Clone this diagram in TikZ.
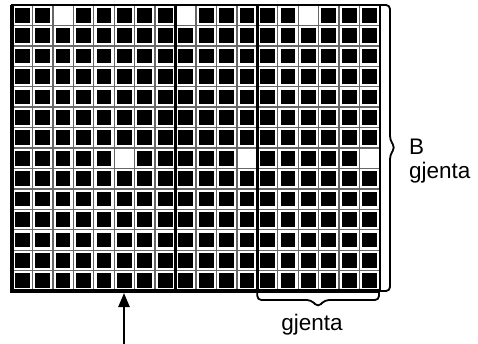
\documentclass[tikz,border=0pt]{standalone}
\usepackage{fontspec}
\setmainfont{Liberation Sans}
\usetikzlibrary{arrows.meta}
\begin{document}
\begin{tikzpicture}[x=1pt, y=-1pt]
        % Define styles
        \tikzstyle{gridline} = [draw=black!60, line width=1.3pt]
        \tikzstyle{divider} = [draw=black, line width=3pt]
        \tikzstyle{pixel} = [fill=black]
        \tikzstyle{bracket} = [draw=black, line width=1.8pt, rounded corners=4pt]
        \tikzstyle{label} = [font=\fontsize{22.5}{24}\selectfont, inner sep=0pt]
        \tikzstyle{arrow} = [-{Triangle[width=11pt,length=14pt]}, line width=2.5pt]

        \useasboundingbox (0,0) rectangle (478,344);
        \def\cw{20.444}
        \def\ch{20.43}

        % Corners of the grid
        \coordinate (gridNW) at (12,5);
        \coordinate (gridSE) at (380,291);

        % Pixels (blank ones stay white)
        \foreach \r in {0,...,13} {
            \foreach \c in {0,...,17} {
                \pgfmathtruncatemacro{\blank}{(\r==0 && mod(\c,6)==2) || (\r==7 && mod(\c,6)==5)}
                \ifnum\blank=0
                    \fill[pixel] ({12+\c*\cw+2.8},{5+\r*\ch+2.8}) rectangle ++(14.8,14.8);
                \fi
            }
        }

        % Grid lines
        \foreach \c in {1,...,17}
            \draw[gridline] ({12+\c*\cw},5) -- ({12+\c*\cw},291);
        \foreach \r in {1,...,13}
            \draw[gridline] (12,{5+\r*\ch}) -- (380,{5+\r*\ch});
        \draw[divider] ({12+8*\cw},5) -- ({12+8*\cw},291);
        \draw[divider] ({12+12*\cw},5) -- ({12+12*\cw},291);

        % Border
        \draw[line width=2pt] (gridNW) rectangle (gridSE);
        \draw[line width=3.2pt] (gridNW) -- (gridNW |- gridSE) -- (gridSE);

        % Brackets
        \coordinate (rightTop) at (381,5);
        \coordinate (rightBottom) at (381,291);
        \draw[bracket] (rightTop) -| (390,140) -- (395,147.5) -- (390,155) |- (rightBottom);
        \coordinate (bottomLeft) at ({12+12*\cw},292);
        \coordinate (bottomRight) at (379,292);
        \draw[bracket] (bottomLeft) |- (311,300) -- (318,307) -- (325,300) -| (bottomRight);

        % Labels
        \node[label, anchor=west, align=left] (rowlabel) at (409,161) {B\\gjenta};
        \node[label, anchor=base] (collabel) at (312,330) {gjenta};

        % Arrow
        \coordinate (arrowfoot) at (124,344);
        \coordinate (arrowtip) at (124,293);
        \draw[arrow] (arrowfoot) -- (arrowtip);

    \end{tikzpicture}
\end{document}
